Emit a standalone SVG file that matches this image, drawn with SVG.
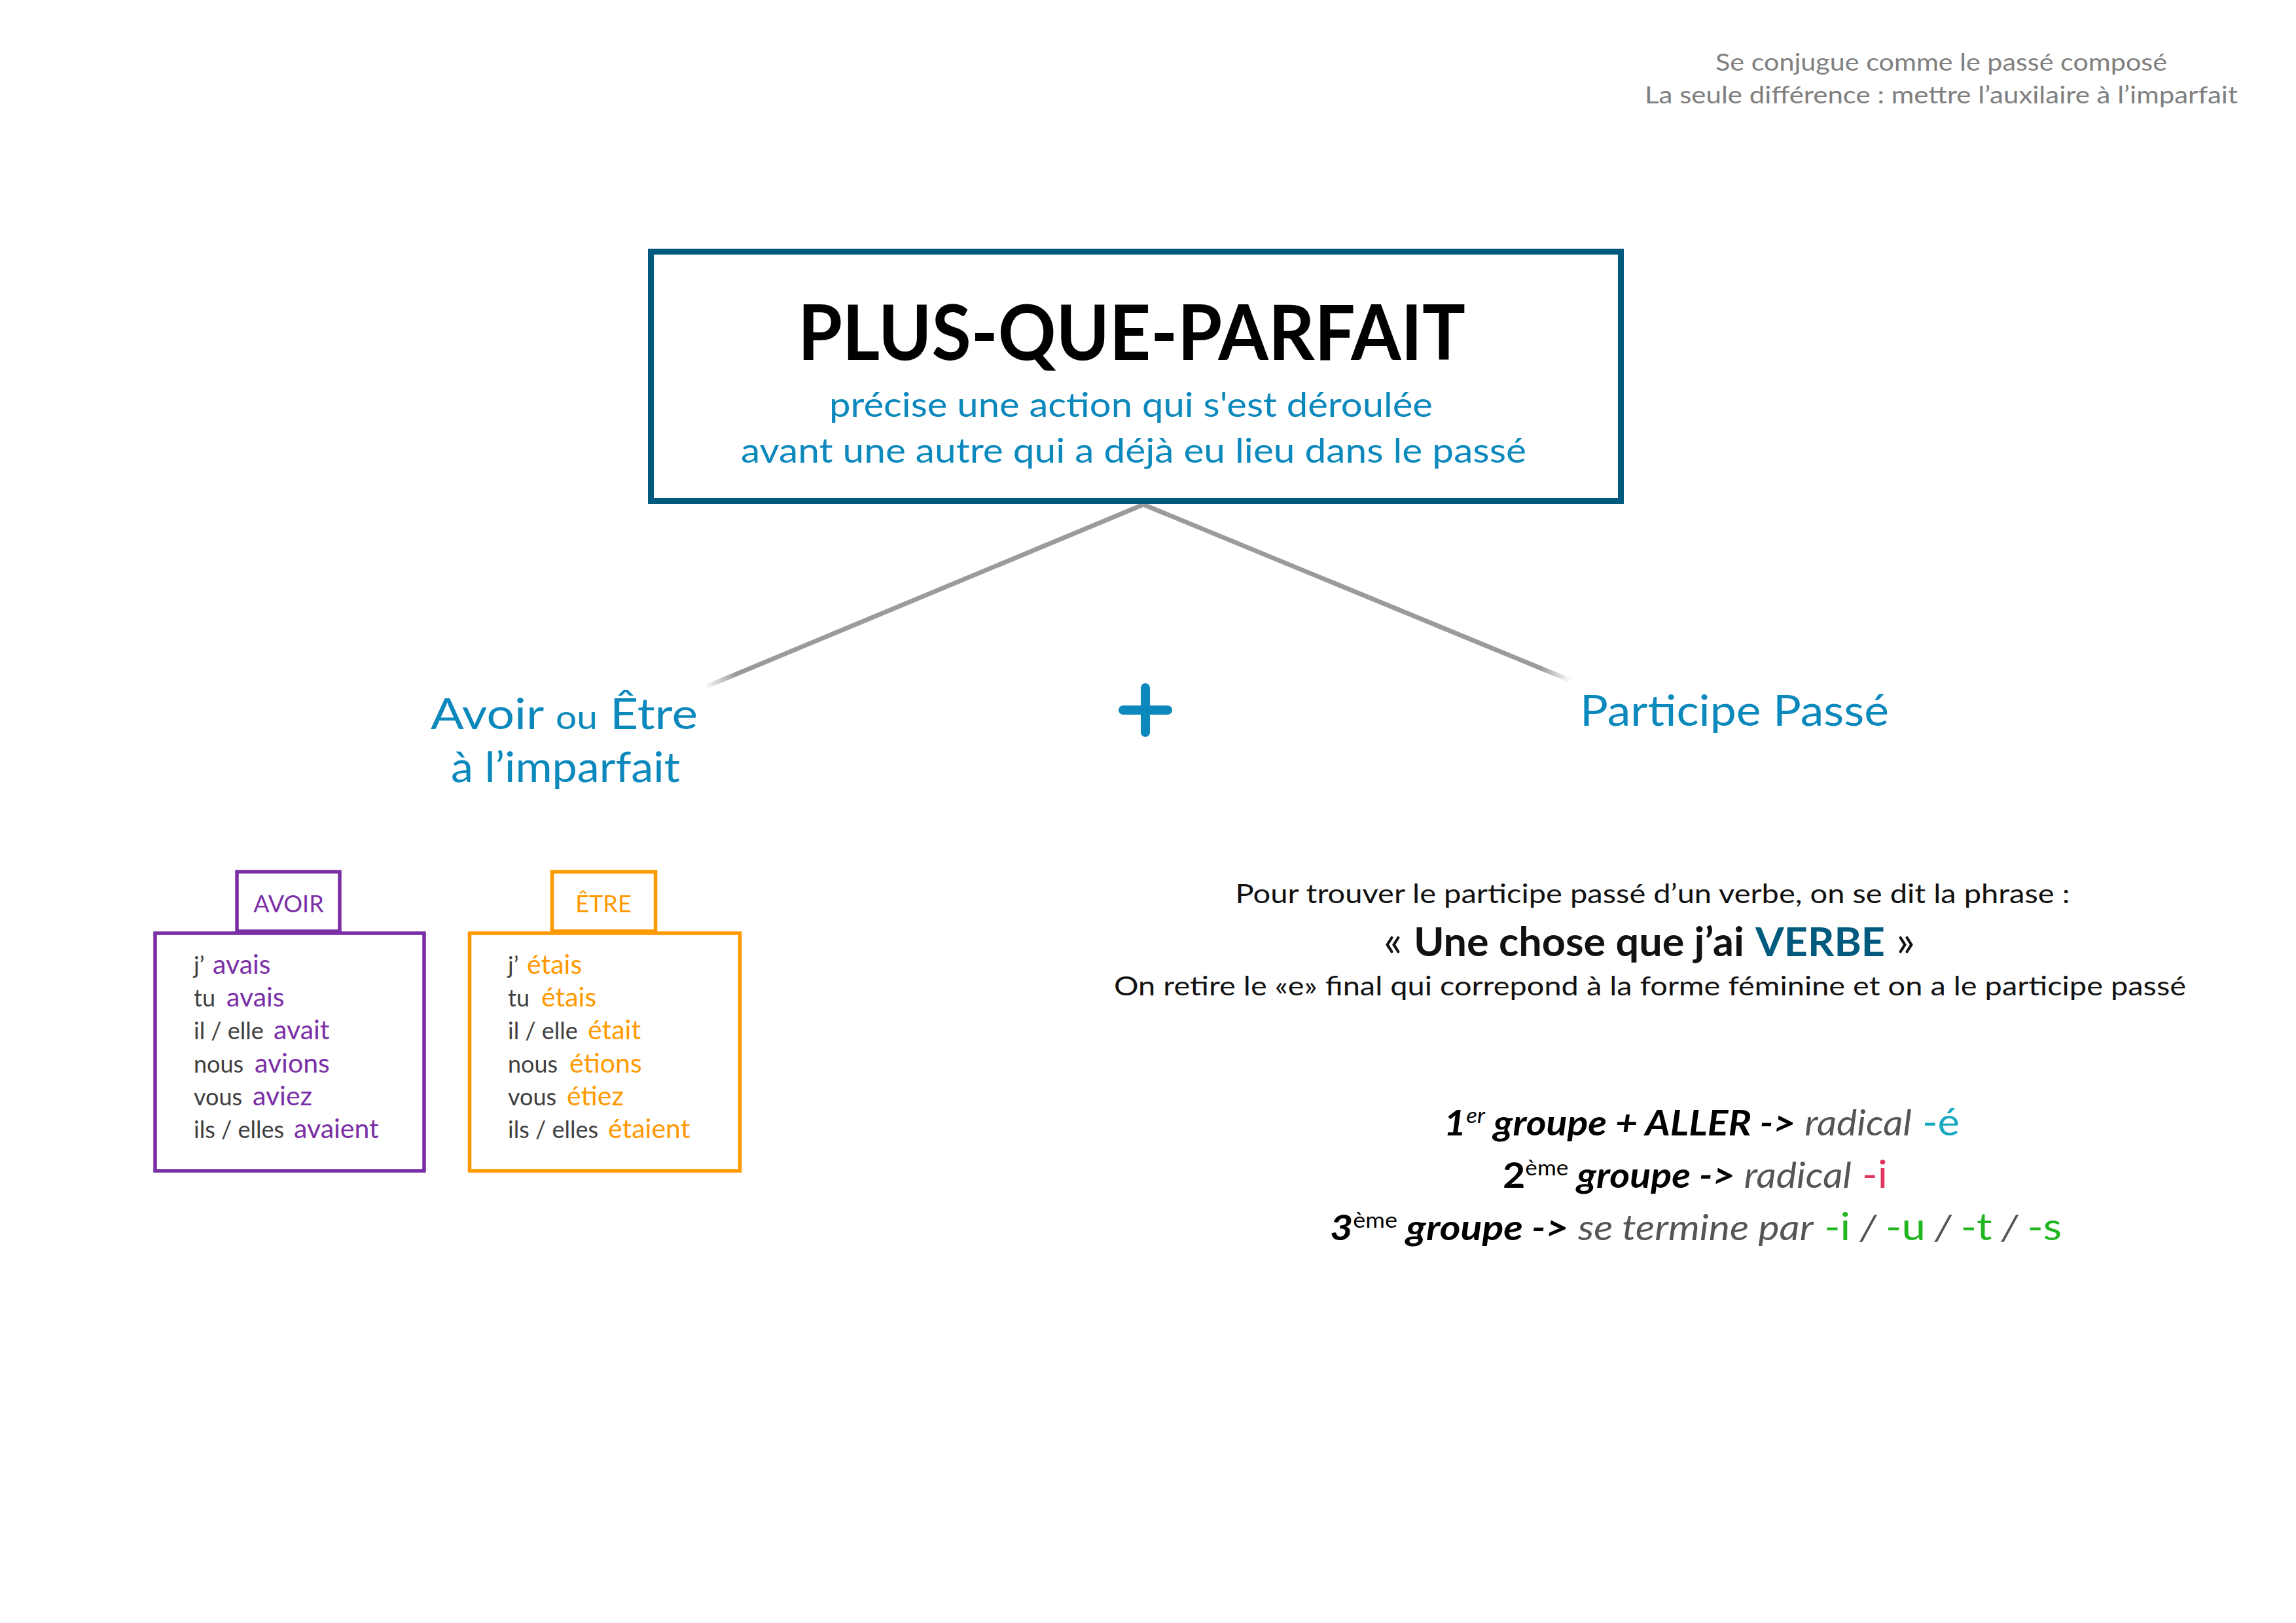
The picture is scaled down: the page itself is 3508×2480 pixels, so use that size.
<svg xmlns="http://www.w3.org/2000/svg" width="3508" height="2480" viewBox="0 0 3508 2480">
<style>
text{font-family:Lato,"Open Sans",sans-serif;}
.note{font-size:37px;fill:#808080;text-anchor:middle;}
.title{font-size:116px;font-weight:700;fill:#000;text-anchor:middle;}
.sub{font-size:52px;fill:#0B88BC;text-anchor:middle;}
.head{font-size:66px;fill:#0B88BC;text-anchor:middle;}
.lbl{font-size:36px;text-anchor:middle;}
.pr{font-size:36px;fill:#404040;}
.vp{font-size:41px;fill:#7A2FA6;}
.vo{font-size:41px;fill:#FF9900;}
.body{font-size:40px;fill:#111;text-anchor:middle;}
.grp{font-size:54px;text-anchor:middle;}
.bi{font-weight:700;font-style:italic;fill:#000;}
.gi{font-style:italic;fill:#555;}
.sup{font-size:32px;font-weight:400;}
.suf{font-size:58px;}
</style>
<defs>
<linearGradient id="gl" gradientUnits="userSpaceOnUse" x1="1747" y1="771" x2="1077" y2="1050">
<stop offset="0" stop-color="#9B9B9B"/><stop offset="0.93" stop-color="#9B9B9B"/><stop offset="1" stop-color="#9B9B9B" stop-opacity="0"/>
</linearGradient>
<linearGradient id="gr" gradientUnits="userSpaceOnUse" x1="1747" y1="771" x2="2400" y2="1040">
<stop offset="0" stop-color="#9B9B9B"/><stop offset="0.93" stop-color="#9B9B9B"/><stop offset="1" stop-color="#9B9B9B" stop-opacity="0"/>
</linearGradient>
</defs>
<rect width="3508" height="2480" fill="#fff"/>

<g id="note">
<text class="note" x="2966" y="108" textLength="690" lengthAdjust="spacingAndGlyphs">Se conjugue comme le passé composé</text>
<text class="note" x="2966" y="158" textLength="906" lengthAdjust="spacingAndGlyphs">La seule différence : mettre l’auxilaire à l’imparfait</text>
</g>

<g id="connectors" fill="none" stroke-width="7">
<line x1="1747" y1="771" x2="1077" y2="1050" stroke="url(#gl)"/>
<line x1="1747" y1="771" x2="2400" y2="1040" stroke="url(#gr)"/>
</g>

<g id="main">
<rect x="994.5" y="384.5" width="1482" height="381" fill="#fff" stroke="#005A7D" stroke-width="9"/>
<text class="title" x="1729" y="550" textLength="1020" lengthAdjust="spacingAndGlyphs">PLUS-QUE-PARFAIT</text>
<text class="sub" x="1728" y="637" textLength="922" lengthAdjust="spacingAndGlyphs">précise une action qui s'est déroulée</text>
<text class="sub" x="1732" y="707" textLength="1200" lengthAdjust="spacingAndGlyphs">avant une autre qui a déjà eu lieu dans le passé</text>
</g>

<g id="auxiliaire">
<text class="head" x="862" y="1114" textLength="408" lengthAdjust="spacingAndGlyphs">Avoir <tspan font-size="50">ou</tspan> Être</text>
<text class="head" x="864" y="1195" style="font-size:64px" textLength="350" lengthAdjust="spacingAndGlyphs">à l’imparfait</text>
</g>

<g id="plus">
<path d="M1750,1051 V1119 M1716,1085 H1784" stroke="#0B88BC" stroke-width="14" stroke-linecap="round" fill="none"/>
</g>

<g id="participe">
<text class="head" x="2650" y="1109" textLength="472" lengthAdjust="spacingAndGlyphs">Participe Passé</text>
</g>

<g id="avoir">
<rect x="362" y="1332" width="157" height="91" fill="#fff" stroke="#7A2FA6" stroke-width="5.5"/>
<text class="lbl" x="441" y="1394" fill="#7A2FA6">AVOIR</text>
<rect x="237" y="1426" width="411" height="363" fill="none" stroke="#7A2FA6" stroke-width="5.5"/>
<text class="pr" x="296" y="1488">j’</text><text class="vp" x="325" y="1488">avais</text>
<text class="pr" x="296" y="1538">tu</text><text class="vp" x="346" y="1538">avais</text>
<text class="pr" x="296" y="1588">il / elle</text><text class="vp" x="418" y="1588">avait</text>
<text class="pr" x="296" y="1639">nous</text><text class="vp" x="389" y="1639">avions</text>
<text class="pr" x="296" y="1689">vous</text><text class="vp" x="386" y="1689">aviez</text>
<text class="pr" x="296" y="1739">ils / elles</text><text class="vp" x="449" y="1739">avaient</text>
</g>

<g id="etre">
<rect x="843.5" y="1332" width="158" height="91" fill="#fff" stroke="#FF9900" stroke-width="5.5"/>
<text class="lbl" x="922" y="1394" fill="#FF9900">ÊTRE</text>
<rect x="717.5" y="1426" width="413" height="363" fill="none" stroke="#FF9900" stroke-width="5.5"/>
<text class="pr" x="776" y="1488">j’</text><text class="vo" x="805" y="1488">étais</text>
<text class="pr" x="776" y="1538">tu</text><text class="vo" x="827" y="1538">étais</text>
<text class="pr" x="776" y="1588">il / elle</text><text class="vo" x="898" y="1588">était</text>
<text class="pr" x="776" y="1639">nous</text><text class="vo" x="870" y="1639">étions</text>
<text class="pr" x="776" y="1689">vous</text><text class="vo" x="866" y="1689">étiez</text>
<text class="pr" x="776" y="1739">ils / elles</text><text class="vo" x="929" y="1739">étaient</text>
</g>

<g id="regle">
<text class="body" x="2525" y="1380" textLength="1275" lengthAdjust="spacingAndGlyphs">Pour trouver le participe passé d’un verbe, on se dit la phrase :</text>
<text class="body" x="2520" y="1461" style="font-size:66px" textLength="812" lengthAdjust="spacingAndGlyphs">« <tspan font-weight="700" font-size="62">Une chose que j’ai</tspan> <tspan font-weight="700" font-size="62" fill="#005A7D">VERBE</tspan> »</text>
<text class="body" x="2521" y="1521" textLength="1638" lengthAdjust="spacingAndGlyphs">On retire le «e» final qui correpond à la forme féminine et on a le participe passé</text>
</g>

<g id="groupes">
<text class="grp" x="2600" y="1735" textLength="788" lengthAdjust="spacingAndGlyphs"><tspan class="bi">1</tspan><tspan class="sup" baseline-shift="super" font-style="italic">er</tspan><tspan class="bi"> groupe + ALLER -&gt;</tspan><tspan class="gi"> radical</tspan><tspan class="suf" fill="#19A8BF"> -é</tspan></text>
<text class="grp" x="2590" y="1815" textLength="588" lengthAdjust="spacingAndGlyphs"><tspan font-weight="700" fill="#000">2</tspan><tspan class="sup" baseline-shift="super">ème</tspan><tspan class="bi"> groupe -&gt;</tspan><tspan class="gi"> radical</tspan><tspan class="suf" fill="#E0355F"> -i</tspan></text>
<text class="grp" x="2591" y="1895" textLength="1118" lengthAdjust="spacingAndGlyphs"><tspan class="bi">3</tspan><tspan class="sup" baseline-shift="super">ème</tspan><tspan class="bi"> groupe -&gt;</tspan><tspan class="gi"> se termine par</tspan><tspan class="suf" fill="#21B521"> -i</tspan><tspan class="gi"> / </tspan><tspan class="suf" fill="#21B521">-u</tspan><tspan class="gi"> / </tspan><tspan class="suf" fill="#21B521">-t</tspan><tspan class="gi"> / </tspan><tspan class="suf" fill="#21B521">-s</tspan></text>
</g>
</svg>
